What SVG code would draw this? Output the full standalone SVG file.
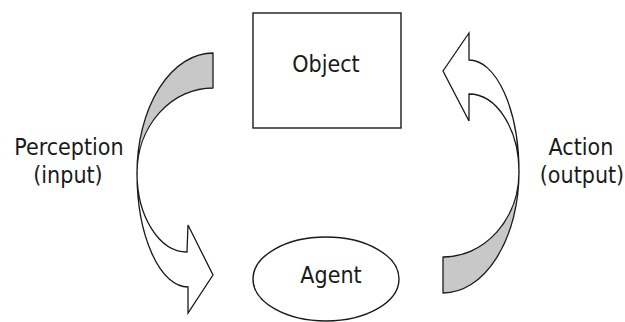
<svg xmlns="http://www.w3.org/2000/svg" width="625" height="322" viewBox="0 0 625 322">
  <style>
    .label { font-family: "DejaVu Sans Condensed", "DejaVu Sans", sans-serif; font-stretch: condensed; font-size: 23px; fill: #1a1a1a; text-anchor: middle; }
    .shape { fill: #ffffff; stroke: #1a1a1a; stroke-width: 1.4; }
    .back { fill: #c8c8c8; stroke: #1a1a1a; stroke-width: 1.3; stroke-linejoin: round; }
    .front { fill: #ffffff; stroke: #1a1a1a; stroke-width: 1.3; stroke-linejoin: miter; }
  </style>
  <rect width="625" height="322" fill="#ffffff"/>

  <g id="connectors">
    <!-- perception arrow: object down to agent -->
    <g id="perception-arrow">
      <path class="back" d="M213,53 L213,88 A76,85 0 0 0 137,173 A76,120 0 0 1 213,53 Z"/>
      <path class="front" d="M137,173 A50,79 0 0 0 187,252 L188,225 L213,275 L188,313 L188,287 A51,114 0 0 1 137,173 Z"/>
    </g>
    <!-- action arrow: agent up to object -->
    <g id="action-arrow">
      <path class="back" d="M443,293 L443,257 A76,85 0 0 0 519,172 A76,121 0 0 1 443,293 Z"/>
      <path class="front" d="M519,172 A50,78 0 0 0 469,94 L469,121 L443,71 L469,33 L469,60 A50,112 0 0 1 519,172 Z"/>
    </g>
  </g>

  <g id="object">
    <rect class="shape" x="253" y="13" width="148" height="115"/>
    <text class="label" x="326" y="72">Object</text>
  </g>

  <g id="agent">
    <ellipse class="shape" cx="326" cy="279" rx="73" ry="42"/>
    <text class="label" x="331" y="283">Agent</text>
  </g>

  <g id="perception-label">
    <text class="label" x="69" y="155">Perception</text>
    <text class="label" x="68" y="183">(input)</text>
  </g>

  <g id="action-label">
    <text class="label" x="581" y="155">Action</text>
    <text class="label" x="582" y="183">(output)</text>
  </g>
</svg>
